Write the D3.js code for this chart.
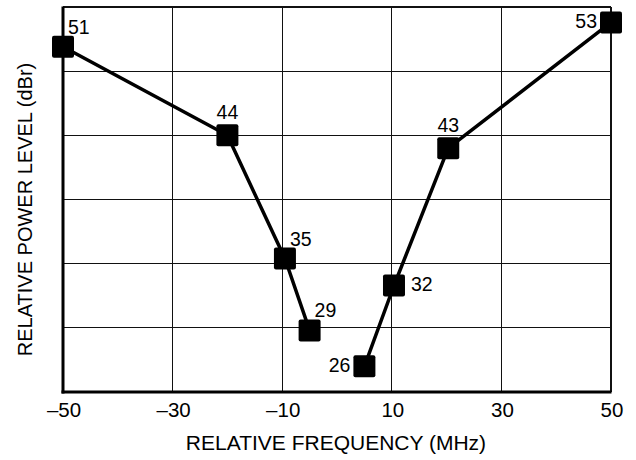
<!DOCTYPE html>
<html>
<head>
<meta charset="utf-8">
<script src="https://cdn.jsdelivr.net/npm/d3@7"></script>
<style>
  html, body { margin: 0; padding: 0; background: #fff; }
  svg { display: block; }
  text { font-family: "Liberation Sans", Arial, Helvetica, sans-serif; fill: #000; }
</style>
</head>
<body>
<svg id="chart" width="636" height="460"></svg>
<script>
// ---- data ----
const frequencies = [-50, -20, -9.5, -5, 5, 10.4, 20.3, 50];        // MHz
const powerLevels = [50.9, 44.0, 34.4, 28.8, 26.0, 32.3, 43.0, 52.8]; // plotted level
const pointLabels = ["51", "44", "35", "29", "26", "32", "43", "53"];
const sides = ["lower", "lower", "lower", "lower", "upper", "upper", "upper", "upper"];
const labelPlacement = ["aboveRight", "above", "aboveRight", "aboveRight", "left", "right", "above", "left"];
const xTicks = [-50, -30, -10, 10, 30, 50];
const xTickLabels = ["–50", "–30", "–10", "10", "30", "50"];
const yGridTicks = [24, 29, 34, 39, 44, 49, 54];
const xTitle = "RELATIVE FREQUENCY (MHz)";
const yTitle = "RELATIVE POWER LEVEL (dBr)";

// ---- layout ----
(function () {
const svg = d3.select("#chart");
const pLeft = 63, pRight = 611, pTop = 7, pBottom = 392;
const x = d3.scaleLinear().domain([-50, 50]).range([pLeft, pRight]);
const y = d3.scaleLinear().domain([24, 54]).range([pBottom, pTop]);

// grid
const grid = svg.append("g").attr("stroke", "#111").attr("stroke-width", 1.2).attr("shape-rendering", "crispEdges");
grid.selectAll("line.v").data(xTicks).join("line")
  .attr("x1", d => x(d)).attr("x2", d => x(d))
  .attr("y1", pTop).attr("y2", pBottom);
grid.selectAll("line.h").data(yGridTicks).join("line")
  .attr("x1", pLeft).attr("x2", pRight)
  .attr("y1", d => y(d)).attr("y2", d => y(d));

// axes (thick left and bottom)
svg.append("line").attr("x1", pLeft).attr("x2", pLeft).attr("y1", pTop - 0.5).attr("y2", pBottom + 1.5)
  .attr("stroke", "#000").attr("stroke-width", 3);
svg.append("line").attr("x1", pLeft - 1.5).attr("x2", pRight + 0.5).attr("y1", pBottom).attr("y2", pBottom)
  .attr("stroke", "#000").attr("stroke-width", 3);

// tick labels
svg.append("g").selectAll("text").data(xTicks).join("text")
  .attr("x", d => x(d) + 1).attr("y", 417)
  .attr("text-anchor", "middle").attr("font-size", 20.5)
  .text((d, i) => xTickLabels[i]);

// titles
svg.append("text").attr("x", 336).attr("y", 450)
  .attr("text-anchor", "middle").attr("font-size", 21).text(xTitle);
svg.append("text").attr("transform", `translate(32,${(pTop + pBottom) / 2 + 10}) rotate(-90)`)
  .attr("text-anchor", "middle").attr("font-size", 20).text(yTitle);

// lines (two separate branches)
const pts = frequencies.map((f, i) => ({ f, v: powerLevels[i], label: pointLabels[i], pos: labelPlacement[i], side: sides[i] }));
const branches = d3.groups(pts, d => d.side);
svg.append("g").selectAll("path").data(branches).join("path")
  .attr("fill", "none").attr("stroke", "#000").attr("stroke-width", 3.5).attr("stroke-linejoin", "round")
  .attr("d", d => d3.line().x(p => x(p.f)).y(p => y(p.v))(d[1]));

// markers
const ms = 22;
svg.append("g").selectAll("rect").data(pts).join("rect")
  .attr("x", d => x(d.f) - ms / 2).attr("y", d => y(d.v) - ms / 2)
  .attr("width", ms).attr("height", ms).attr("rx", 2)
  .attr("fill", "#000");

// labels
const offsets = {
  aboveRight: { dx: 5, dy: -13, anchor: "start" },
  above: { dx: 0, dy: -16, anchor: "middle" },
  left: { dx: -14, dy: 6, anchor: "end" },
  right: { dx: 17, dy: 6, anchor: "start" }
};
svg.append("g").selectAll("text").data(pts).join("text")
  .attr("x", d => x(d.f) + offsets[d.pos].dx)
  .attr("y", d => y(d.v) + offsets[d.pos].dy)
  .attr("text-anchor", d => offsets[d.pos].anchor)
  .attr("font-size", 19.5)
  .text(d => d.label);
})();
</script>
</body>
</html>
